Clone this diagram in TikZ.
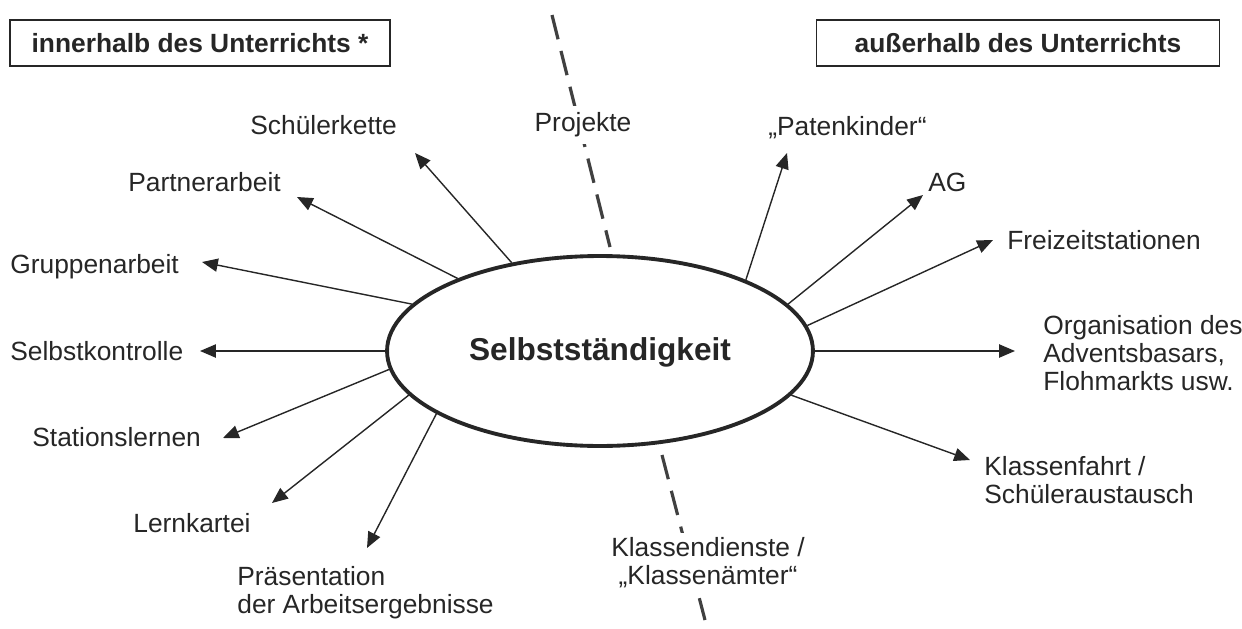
\documentclass[tikz,border=0pt]{standalone}
\usepackage{fontspec}
\setmainfont{Liberation Sans}
\usetikzlibrary{arrows.meta,shapes.geometric}

\tikzset{
  lbl/.style={font=\fontsize{15}{15.8}\selectfont, inner sep=0pt, text=black!85},
  arr/.style={-{Triangle[length=9pt,width=7.5pt]}, line width=0.8pt, draw=black!85},
  sepline/.style={line width=1.8pt, dash pattern=on 0.5cm off 0.24cm, draw=black!75},
}

\begin{document}
\begin{tikzpicture}[x=0.02cm,y=-0.02cm]
   \useasboundingbox (0,0) rectangle (1242,629);
   \begin{scope}[every node/.style={draw=black!85, line width=0.8pt, text=black!85, font=\bfseries\fontsize{15}{18}\selectfont, minimum height=0.92cm, inner sep=0pt}]
    \node[minimum width=7.6cm] (inn) at (200,43) {innerhalb des Unterrichts *};
    \node[minimum width=8.06cm] (aus) at (1018,43) {außerhalb des Unterrichts};
   \end{scope}
   \node[ellipse, draw=black!85, line width=2.2pt, minimum width=8.52cm, minimum height=3.8cm, inner sep=0pt, text=black!85, font=\bfseries\fontsize{18}{20}\selectfont, text height=1.1em, text depth=0pt] (sel) at (600,351) {Selbstständigkeit};
   \begin{scope}[every node/.style={lbl, anchor=west}]
    \node (in1) at (250,125) {Schülerkette};
    \node (in2) at (128,182) {Partnerarbeit};
    \node (in3) at (10,267) {Gruppenarbeit};
    \node (in4) at (10,351) {Selbstkontrolle};
    \node (in5) at (32,437) {Stationslernen};
    \node (in6) at (133,523) {Lernkartei};
    \node[align=left] (in7) at (237,593) {Präsentation\\der Arbeitsergebnisse};
    \node (au1) at (768,128) {„Patenkinder“};
    \node (au2) at (928,182) {AG};
    \node (au3) at (1007,240) {Freizeitstationen};
    \node[align=left] (au4) at (1043,353) {Organisation des\\Adventsbasars,\\Flohmarkts usw.};
    \node[align=left] (au5) at (984,480) {Klassenfahrt /\\Schüleraustausch};
   \end{scope}
   \coordinate (tin1) at (415,153);
   \coordinate (tin2) at (297,197);
   \coordinate (tin3) at (202,262);
   \coordinate (tin4) at (200,351);
   \coordinate (tin5) at (223,438);
   \coordinate (tin6) at (272,503);
   \coordinate (tin7) at (367,548);
   \coordinate (taus1) at (787,153);
   \coordinate (taus2) at (923,195);
   \coordinate (taus3) at (993,240);
   \coordinate (taus4) at (1015,351);
   \coordinate (taus5) at (970,460);
   \begin{scope}[every path/.style={arr}]
    \draw (sel.135) -- (tin1);
    \draw (sel.153) -- (tin2);
    \draw (sel.166) -- (tin3);
    \draw (sel.180) -- (tin4);
    \draw (sel.185) -- (tin5);
    \draw (sel.193) -- (tin6);
    \draw (sel.201) -- (tin7);
    \draw (sel.26) -- (taus1);
    \draw (sel.14) -- (taus2);
    \draw (sel.7) -- (taus3);
    \draw (sel.0) -- (taus4);
    \draw (sel.347) -- (taus5);
   \end{scope}
   \coordinate (d1) at (552,15);
   \coordinate (d2) at (610,247);
   \coordinate (d3) at (662,455);
   \coordinate (d4) at (705,620);
   \draw[sepline] (d1) -- (d2);
   \draw[sepline] (d3) -- (d4);
   \node[lbl, fill=white, inner sep=4pt] (proj) at (583,125) {Projekte};
   \node[lbl, fill=white, inner sep=3pt, align=center] (kd) at (708,563) {Klassendienste /\\„Klassenämter“};
\end{tikzpicture}
\end{document}
